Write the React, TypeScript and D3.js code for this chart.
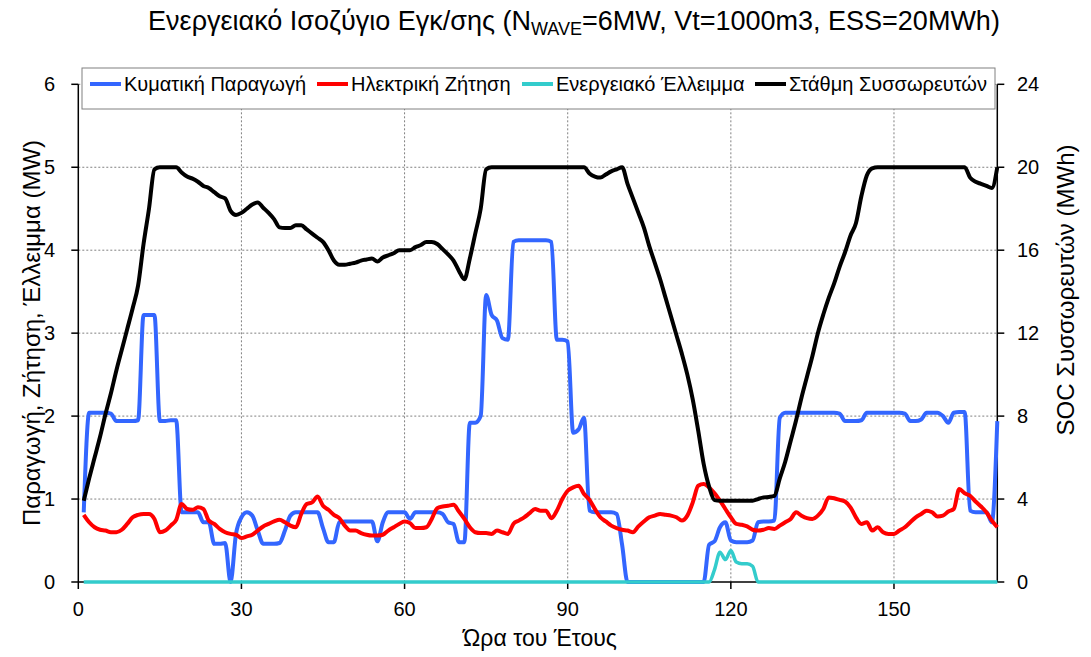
import React from "react";
import * as d3 from "d3";

// Hourly values, hours 1..169
const production = [
  0.84, 2.04, 2.04, 2.04, 2.04, 2.03, 1.94, 1.94, 1.94, 1.94,
  1.95, 3.22, 3.22, 3.22, 1.94, 1.94, 1.95, 1.95, 0.84, 0.84,
  0.84, 0.84, 0.72, 0.72, 0.46, 0.46, 0.47, 0.0, 0.58, 0.78,
  0.84, 0.8, 0.62, 0.46, 0.46, 0.46, 0.47, 0.62, 0.8, 0.84,
  0.84, 0.84, 0.84, 0.84, 0.65, 0.48, 0.48, 0.72, 0.73, 0.73,
  0.73, 0.73, 0.73, 0.73, 0.49, 0.72, 0.84, 0.84, 0.84, 0.84,
  0.76, 0.84, 0.84, 0.84, 0.84, 0.84, 0.82, 0.72, 0.7, 0.48,
  0.48, 1.92, 1.92, 2.0, 3.46, 3.22, 3.15, 2.94, 2.92, 4.1,
  4.12, 4.12, 4.12, 4.12, 4.12, 4.12, 4.1, 2.92, 2.92, 2.9,
  1.8, 1.84, 1.98, 0.86, 0.84, 0.84, 0.84, 0.84, 0.82, 0.45,
  0, 0, 0, 0, 0, 0, 0, 0, 0, 0,
  0, 0, 0, 0, 0, 0.45, 0.49, 0.66, 0.72, 0.5,
  0.48, 0.48, 0.48, 0.5, 0.72, 0.73, 0.73, 0.74, 1.98, 2.04,
  2.04, 2.04, 2.04, 2.04, 2.04, 2.04, 2.04, 2.04, 2.04, 2.03,
  1.94, 1.94, 1.94, 1.95, 2.04, 2.04, 2.04, 2.04, 2.04, 2.04,
  2.04, 2.03, 1.94, 1.94, 1.96, 2.04, 2.04, 2.04, 2.0, 1.92,
  2.04, 2.05, 2.05, 0.86, 0.84, 0.84, 0.84, 0.72, 1.94,
];

const demand = [
  0.81, 0.72, 0.66, 0.63, 0.62, 0.6, 0.6, 0.63, 0.7, 0.78,
  0.81, 0.82, 0.82, 0.76, 0.6, 0.62, 0.68, 0.75, 0.94, 0.88,
  0.87, 0.9, 0.88, 0.74, 0.7, 0.64, 0.6, 0.58, 0.57, 0.53,
  0.55, 0.57, 0.62, 0.67, 0.7, 0.73, 0.75, 0.72, 0.68, 0.66,
  0.82, 0.94, 0.96, 1.03, 0.92, 0.87, 0.81, 0.77, 0.68, 0.62,
  0.62, 0.59, 0.57, 0.56, 0.56, 0.57, 0.62, 0.66, 0.7, 0.73,
  0.71, 0.65, 0.65, 0.66, 0.76, 0.89, 0.91, 0.92, 0.93, 0.85,
  0.76, 0.66, 0.6, 0.59, 0.59, 0.58, 0.62, 0.6, 0.58, 0.7,
  0.74, 0.78, 0.83, 0.88, 0.86, 0.86, 0.77, 0.86, 1.0, 1.1,
  1.14, 1.16, 1.06, 0.99, 0.88, 0.78, 0.73, 0.68, 0.65, 0.63,
  0.62, 0.6, 0.67, 0.73, 0.78, 0.8, 0.82, 0.81, 0.8, 0.78,
  0.74, 0.8, 0.96, 1.16, 1.18, 1.14, 1.07, 0.98, 0.88, 0.78,
  0.7, 0.69, 0.67, 0.63, 0.62, 0.63, 0.65, 0.64, 0.68, 0.72,
  0.76, 0.84, 0.8, 0.77, 0.76, 0.8, 0.88, 1.02, 1.01, 0.99,
  0.97, 0.9, 0.78, 0.7, 0.72, 0.62, 0.66, 0.6, 0.58, 0.58,
  0.62, 0.66, 0.72, 0.78, 0.82, 0.86, 0.84, 0.79, 0.8, 0.85,
  0.88, 1.12, 1.07, 1.04, 0.97, 0.91, 0.84, 0.74, 0.66,
];

const deficit = [
  0, 0, 0, 0, 0, 0, 0, 0, 0, 0,
  0, 0, 0, 0, 0, 0, 0, 0, 0, 0,
  0, 0, 0, 0, 0, 0, 0, 0, 0, 0,
  0, 0, 0, 0, 0, 0, 0, 0, 0, 0,
  0, 0, 0, 0, 0, 0, 0, 0, 0, 0,
  0, 0, 0, 0, 0, 0, 0, 0, 0, 0,
  0, 0, 0, 0, 0, 0, 0, 0, 0, 0,
  0, 0, 0, 0, 0, 0, 0, 0, 0, 0,
  0, 0, 0, 0, 0, 0, 0, 0, 0, 0,
  0, 0, 0, 0, 0, 0, 0, 0, 0, 0,
  0, 0, 0, 0, 0, 0, 0, 0, 0, 0,
  0, 0, 0, 0, 0, 0, 0.15, 0.36, 0.27, 0.38,
  0.24, 0.22, 0.22, 0.19, 0, 0, 0, 0, 0, 0,
  0, 0, 0, 0, 0, 0, 0, 0, 0, 0,
  0, 0, 0, 0, 0, 0, 0, 0, 0, 0,
  0, 0, 0, 0, 0, 0, 0, 0, 0, 0,
  0, 0, 0, 0, 0, 0, 0, 0, 0,
];

const soc = [
  3.92, 5.0, 6.0, 7.0, 8.1, 9.1, 10.2, 11.2, 12.2, 13.2,
  14.3, 16.3, 18.0, 19.9, 20, 20, 20, 20, 19.75, 19.55,
  19.45, 19.3, 19.1, 19.0, 18.8, 18.6, 18.5, 17.9, 17.7, 17.8,
  18.0, 18.2, 18.3, 18.05, 17.8, 17.5, 17.1, 17.07, 17.07, 17.2,
  17.2, 17.0, 16.8, 16.6, 16.4, 16.0, 15.5, 15.3, 15.3, 15.35,
  15.4, 15.5, 15.55, 15.6, 15.45, 15.65, 15.75, 15.85, 16.0, 16.0,
  16.0, 16.15, 16.25, 16.4, 16.4, 16.3, 16.05, 15.8, 15.5, 15.0,
  14.6, 15.6, 16.8, 18.0, 19.9, 20, 20, 20, 20, 20,
  20, 20, 20, 20, 20, 20, 20, 20, 20, 20,
  20, 20, 20, 19.7, 19.55, 19.5, 19.65, 19.8, 19.9, 20.0,
  19.2, 18.5, 17.8, 17.1, 16.2, 15.4, 14.6, 13.7, 12.8, 11.9,
  11.0, 10.0, 8.8, 7.3, 5.7, 4.6, 3.95, 3.92, 3.92, 3.92,
  3.92, 3.92, 3.92, 3.92, 4.0, 4.08, 4.1, 4.15, 5.0, 5.8,
  6.8, 7.8, 8.9, 9.9, 10.9, 12.0, 12.9, 13.7, 14.4, 15.2,
  15.9, 16.7, 17.3, 18.6, 19.6, 19.95, 20, 20, 20, 20,
  20, 20, 20, 20, 20, 20, 20, 20, 20, 20,
  20, 20, 20, 19.5, 19.3, 19.2, 19.1, 19.0, 20,
];

const xTicks = [0, 30, 60, 90, 120, 150];
const yLeftTicks = [0, 1, 2, 3, 4, 5, 6];
const yRightTicks = [0, 4, 8, 12, 16, 20, 24];
const seriesNames = [
  "Κυματική Παραγωγή",
  "Ηλεκτρική Ζήτηση",
  "Ενεργειακό Έλλειμμα",
  "Στάθμη Συσσωρευτών",
];
const seriesColors = ["#3366FF", "#FF0000", "#33CCCC", "#000000"];

const W = 1091;
const H = 657;
const L = 78.3;
const R = 997.3;
const T = 84.3;
const B = 582;
const FONT = "'Liberation Sans', Arial, sans-serif";

export default function App() {
  const x = d3.scaleLinear().domain([0, 169]).range([L, R]);
  const yL = d3.scaleLinear().domain([0, 6]).range([B, T]);
  const yR = d3.scaleLinear().domain([0, 24]).range([B, T]);

  const lineL = d3
    .line<number>()
    .x((_, i) => x(i + 1))
    .y((d) => yL(d))
    .curve(d3.curveMonotoneX);
  const lineR = d3
    .line<number>()
    .x((_, i) => x(i + 1))
    .y((d) => yR(d))
    .curve(d3.curveMonotoneX);

  const legendX = [90, 317, 522, 755];

  return (
    <svg
      width={W}
      height={H}
      style={{ position: "absolute", left: 0, top: 0, background: "#fff" }}
      fontFamily={FONT}
    >
      <rect x={0} y={0} width={W} height={H} fill="#fff" />
      {/* Title */}
      <text x={574} y={30} textAnchor="middle" fontSize={27} fill="#000">
        Ενεργειακό Ισοζύγιο Εγκ/σης (N
        <tspan fontSize={18} dy={5}>WAVE</tspan>
        <tspan dy={-5}>=6MW, Vt=1000m3, ESS=20MWh)</tspan>
      </text>

      {/* Grid */}
      {xTicks.filter((t) => t > 0).map((t) => (
        <line key={"gx" + t} x1={x(t)} x2={x(t)} y1={T} y2={B} stroke="#808080" strokeWidth={1} strokeDasharray="2,2" />
      ))}
      {yLeftTicks.filter((t) => t > 0).map((t) => (
        <line key={"gy" + t} x1={L} x2={R} y1={yL(t)} y2={yL(t)} stroke="#808080" strokeWidth={1} strokeDasharray="2,2" />
      ))}

      {/* Axes */}
      <line x1={L} x2={L} y1={T} y2={B} stroke="#000" strokeWidth={1.5} />
      <line x1={R} x2={R} y1={T} y2={B} stroke="#000" strokeWidth={1.5} />
      <line x1={L} x2={R} y1={B} y2={B} stroke="#000" strokeWidth={1.5} />
      {yLeftTicks.map((t) => (
        <g key={"yl" + t}>
          <line x1={L - 7} x2={L} y1={yL(t)} y2={yL(t)} stroke="#000" strokeWidth={1.5} />
          <text x={55} y={yL(t)} dy="0.35em" textAnchor="end" fontSize={20}>{t}</text>
        </g>
      ))}
      {yRightTicks.map((t) => (
        <g key={"yr" + t}>
          <line x1={R} x2={R + 7} y1={yR(t)} y2={yR(t)} stroke="#000" strokeWidth={1.5} />
          <text x={1017} y={yR(t)} dy="0.35em" textAnchor="start" fontSize={20}>{t}</text>
        </g>
      ))}
      {xTicks.map((t) => (
        <g key={"xt" + t}>
          <line x1={x(t)} x2={x(t)} y1={B} y2={B + 7} stroke="#000" strokeWidth={1.5} />
          <text x={x(t)} y={616} textAnchor="middle" fontSize={20}>{t}</text>
        </g>
      ))}

      {/* Axis titles */}
      <text x={540} y={646} textAnchor="middle" fontSize={23}>Ώρα του Έτους</text>
      <text transform={`translate(40,333) rotate(-90)`} textAnchor="middle" fontSize={24}>
        Παραγωγή, Ζήτηση, Έλλειμμα (MW)
      </text>
      <text transform={`translate(1074,290) rotate(-90)`} textAnchor="middle" fontSize={24}>
        SOC Συσσωρευτών (MWh)
      </text>

      {/* Series */}
      <path d={lineL(production) || ""} fill="none" stroke={seriesColors[0]} strokeWidth={4} strokeLinejoin="round" />
      <path d={lineL(demand) || ""} fill="none" stroke={seriesColors[1]} strokeWidth={4} strokeLinejoin="round" />
      <path d={lineL(deficit) || ""} fill="none" stroke={seriesColors[2]} strokeWidth={3.5} strokeLinejoin="round" />
      <path d={lineR(soc) || ""} fill="none" stroke={seriesColors[3]} strokeWidth={4} strokeLinejoin="round" />

      {/* Legend */}
      <rect x={82} y={68} width={913} height={41} fill="#fff" stroke="#808080" strokeWidth={1} />
      {seriesNames.map((n, i) => (
        <g key={n}>
          <line x1={legendX[i]} x2={legendX[i] + 31} y1={84} y2={84} stroke={seriesColors[i]} strokeWidth={4} />
          <text x={legendX[i] + 34} y={84} dy="0.35em" fontSize={20}>{n}</text>
        </g>
      ))}
    </svg>
  );
}
